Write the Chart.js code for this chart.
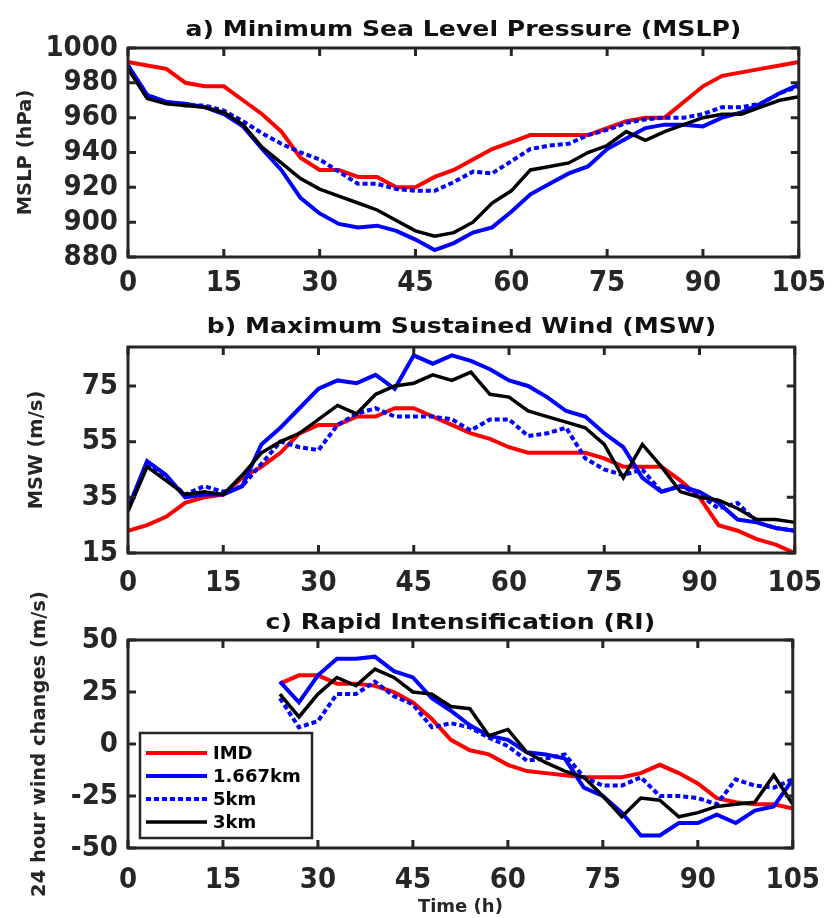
<!DOCTYPE html>
<html><head><meta charset="utf-8">
<script src="https://cdn.jsdelivr.net/npm/chart.js@4"></script>
<style>
html,body{margin:0;padding:0;background:#fff;}
#wrap{position:relative;width:835px;height:918px;overflow:hidden;background:#fff;}
canvas{position:absolute;left:0;}
</style></head><body>
<div id="wrap">
<canvas id="cc" width="835" height="358" style="top:560px"></canvas>
<canvas id="cb" width="835" height="300" style="top:300px"></canvas>
<canvas id="ca" width="835" height="300" style="top:0px"></canvas>
</div>
<script>
// ---------- data ----------
const hours = [0,3,6,9,12,15,18,21,24,27,30,33,36,39,42,45,48,51,54,57,60,63,66,69,72,75,78,81,84,87,90,93,96,99,102,105];
const riHours = [24,27,30,33,36,39,42,45,48,51,54,57,60,63,66,69,72,75,78,81,84,87,90,93,96,99,102,105];
const seriesNames = ['IMD','1.667km','5km','3km'];
const xTicks = [0,15,30,45,60,75,90,105];

const mslpIMD  = [992,990,988,980,978,978,970,962,952,937,930,930,926,926,920,920,926,930,936,942,946,950,950,950,950,954,958,960,960,969,978,984,986,988,990,992];
const mslp1667 = [990,973,969,968,966,962,955,942,930,914,905,899,897,898,895,890,884,888,894,897,906,916,922,928,932,942,948,954,956,956,955,960,963,968,974,979];
const mslp5km  = [990,973,969,967,967,964,958,951,945,940,936,929,922,922,919,918,918,923,929,928,935,942,944,945,950,953,957,959,960,960,962,966,966,968,974,978];
const mslp3km  = [988,971,968,967,966,963,956,943,934,925,919,915,911,907,901,895,892,894,900,911,918,930,932,934,940,944,952,947,952,956,960,962,962,966,970,972];
const mslpTicks = [880,900,920,940,960,980,1000];

const mswIMD  = [23,25,28,33,35,36,42,46,51,58,61,61,64,64,67,67,64,61,58,56,53,51,51,51,51,49,46,46,46,41,35,25,23,20,18,15];
const msw1667 = [31,48,43,35,36,36,39,54,60,67,74,77,76,79,74,86,83,86,84,81,77,75,71,66,64,58,53,42,37,39,37,33,27,26,24,23];
const msw5km  = [31,47,42,36,39,37,39,47,55,53,52,61,65,67,64,64,64,63,59,63,63,57,58,60,49,45,43,45,37,39,36,31,33,26,24,23];
const msw3km  = [30,46,41,36,37,36,43,51,55,58,63,68,65,72,75,76,79,77,80,72,71,66,64,62,60,54,42,54,46,37,35,34,31,27,27,26];
const mswTicks = [15,35,55,75];

const riIMD  = [29,33,33,29,29,28,25,20,12,2,-3,-5,-10,-13,-14,-15,-16,-16,-16,-14,-10,-14,-19,-26,-28,-29,-29,-31];
const ri1667 = [30,20,33,41,41,42,35,32,22,16,9,4,2,-4,-5,-7,-21,-25,-33,-44,-44,-38,-38,-34,-38,-32,-30,-17];
const ri5km  = [22,8,11,24,24,30,23,19,8,10,8,3,-1,-8,-7,-5,-16,-20,-20,-16,-25,-25,-26,-29,-17,-20,-21,-17];
const ri3km  = [24,13,24,32,28,36,32,25,24,18,17,4,7,-4,-9,-13,-16,-25,-35,-26,-27,-35,-33,-30,-29,-28,-15,-29];
const riTicks = [-50,-25,0,25,50];

// ---------- styles ----------
const FAMC = "'DejaVu Sans Condensed','DejaVu Sans',sans-serif";
const FAM = "'DejaVu Sans',sans-serif";
const TXT = '#262626';
const styles = [
  {color:'#ff0000', width:4,   dash:[],    order:4},
  {color:'#0000ff', width:4,   dash:[],    order:3},
  {color:'#0000ff', width:4,   dash:[5,3], order:2},
  {color:'#000000', width:3.5, dash:[],    order:1}
];

function mkDatasets(xs, arrs){
  return arrs.map((a,i)=>({
    label: seriesNames[i],
    data: a.map((v,k)=>({x:xs[k], y:v})),
    borderColor: styles[i].color,
    backgroundColor: styles[i].color,
    borderWidth: styles[i].width,
    borderDash: styles[i].dash,
    order: styles[i].order,
    pointRadius: 0,
    tension: 0,
    fill: false
  }));
}

const framePlugin = {
  id:'frame',
  afterDraw(chart){
    const {ctx, chartArea:a, scales} = chart;
    ctx.save();
    ctx.strokeStyle = TXT;
    ctx.lineWidth = 3;
    ctx.setLineDash([]);
    ctx.strokeRect(a.left, a.top, a.right-a.left, a.bottom-a.top);
    const L = 8;
    ctx.beginPath();
    scales.x.ticks.forEach(t=>{
      const px = scales.x.getPixelForValue(t.value);
      ctx.moveTo(px, a.bottom); ctx.lineTo(px, a.bottom-L);
      ctx.moveTo(px, a.top); ctx.lineTo(px, a.top+L);
    });
    scales.y.ticks.forEach(t=>{
      const py = scales.y.getPixelForValue(t.value);
      ctx.moveTo(a.left, py); ctx.lineTo(a.left+L, py);
      ctx.moveTo(a.right, py); ctx.lineTo(a.right-L, py);
    });
    ctx.stroke();
    ctx.restore();
  }
};

// panel title centred over the plot area (MATLAB style, slightly wide lettering)
const panelTitlePlugin = {
  id:'panelTitle',
  afterDraw(chart, args, opts){
    if(!opts || !opts.text) return;
    const {ctx, chartArea:a} = chart;
    ctx.save();
    ctx.translate((a.left+a.right)/2, opts.y);
    ctx.scale(1.17, 1);
    ctx.font = "bold 21.5px " + FAM;
    ctx.fillStyle = '#111';
    ctx.textAlign = 'center';
    ctx.textBaseline = 'middle';
    ctx.fillText(opts.text, 0, 0);
    ctx.restore();
  }
};

const legendPlugin = {
  id:'boxLegend',
  afterDraw(chart, args, opts){
    if(!opts || !opts.show) return;
    const {ctx, chartArea:a} = chart;
    const x0 = a.left + 12, w = 172, h = 105, y0 = a.bottom - 10 - h;
    ctx.save();
    ctx.fillStyle = '#fff';
    ctx.fillRect(x0, y0, w, h);
    ctx.strokeStyle = TXT; ctx.lineWidth = 2.5;
    ctx.strokeRect(x0, y0, w, h);
    ctx.font = "bold 18px " + FAM;
    ctx.textBaseline = 'middle';
    ctx.textAlign = 'left';
    chart.data.datasets.forEach((ds,i)=>{
      const y = y0 + 20 + i*23;
      ctx.strokeStyle = ds.borderColor;
      ctx.lineWidth = ds.borderWidth;
      ctx.setLineDash(ds.borderDash||[]);
      ctx.beginPath(); ctx.moveTo(x0+6, y); ctx.lineTo(x0+67, y); ctx.stroke();
      ctx.setLineDash([]);
      ctx.fillStyle = '#000';
      ctx.fillText(ds.label, x0+73, y+1);
    });
    ctx.restore();
  }
};

function makeChart(id, cfg){
  const tickFont = {family:FAMC, size:29, weight:'bold'};
  return new Chart(document.getElementById(id), {
    type:'line',
    data:{datasets: mkDatasets(cfg.xs, cfg.arrs)},
    options:{
      responsive:false, animation:false,
      devicePixelRatio:1,
      layout:{padding:{left:0, right:30, top:cfg.top, bottom:0}},
      plugins:{
        legend:{display:false}, tooltip:{enabled:false}, title:{display:false},
        panelTitle:{text:cfg.title, y:cfg.titleY},
        boxLegend:{show:!!cfg.legend}
      },
      scales:{
        x:{type:'linear', min:0, max:105,
          afterBuildTicks(s){ s.ticks = xTicks.map(v=>({value:v})); },
          afterFit(s){ s.height = cfg.xH; },
          grid:{display:false, drawTicks:false}, border:{display:false},
          ticks:{font:tickFont, color:TXT, padding:cfg.xPad, maxRotation:0, autoSkip:false,
            callback:(v)=>String(v)},
          title:{display:!!cfg.xTitle, text:cfg.xTitle||'', color:TXT,
            font:{family:FAM, size:18, weight:'bold'}, padding:{top:0,bottom:0}}
        },
        y:{type:'linear', min:cfg.ymin, max:cfg.ymax,
          afterBuildTicks(s){ s.ticks = cfg.yTicks.map(v=>({value:v})); },
          afterFit(s){ s.width = 128; },
          grid:{display:false, drawTicks:false}, border:{display:false},
          ticks:{font:tickFont, color:TXT, padding:10, autoSkip:false,
            callback:(v)=>String(v)},
          title:{display:true, text:cfg.yTitle, color:TXT,
            font:{family:FAM, size:cfg.yTitleSize, weight:'bold'}, padding:{top:cfg.yTitlePad, bottom:0}}
        }
      }
    },
    plugins:[framePlugin, panelTitlePlugin, legendPlugin]
  });
}

makeChart('ca', {xs:hours, arrs:[mslpIMD, mslp1667, mslp5km, mslp3km],
  title:'a) Minimum Sea Level Pressure (MSLP)', top:48, titleY:30,
  ymin:880, ymax:1000, yTicks:mslpTicks, yTitle:'MSLP (hPa)', yTitleSize:19.5, yTitlePad:14,
  xH:43, xPad:9});
makeChart('cb', {xs:hours, arrs:[mswIMD, msw1667, msw5km, msw3km],
  title:'b) Maximum Sustained Wind (MSW)', top:47, titleY:27,
  ymin:15, ymax:89, yTicks:mswTicks, yTitle:'MSW (m/s)', yTitleSize:19.5, yTitlePad:25,
  xH:47, xPad:13});
makeChart('cc', {xs:riHours, arrs:[riIMD, ri1667, ri5km, ri3km],
  title:'c) Rapid Intensification (RI)', top:80, titleY:63,
  ymin:-50, ymax:50, yTicks:riTicks, yTitle:'24 hour wind changes (m/s)', yTitleSize:19.5, yTitlePad:28,
  xH:70, xPad:15, xTitle:'Time (h)', legend:true});
</script>
</body></html>
